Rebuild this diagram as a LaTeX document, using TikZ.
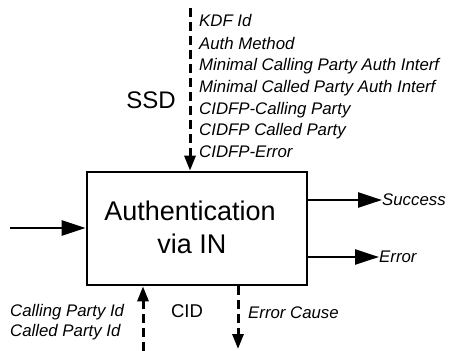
\documentclass[tikz,border=0pt]{standalone}
\usepackage{fontspec}
\setmainfont{Liberation Sans}
\usetikzlibrary{arrows.meta}
\begin{document}
\begin{tikzpicture}[x=1pt,y=-1pt,
  lbl/.style={font=\fontsize{16.8}{19}\selectfont\itshape, anchor=west, inner sep=0pt},
  big/.style={font=\fontsize{24}{28}\selectfont, inner sep=0pt},
  title/.style={font=\fontsize{27}{32}\selectfont, inner sep=0pt},
  solidarr/.style={line width=2.6pt, -{Triangle[length=24pt,width=15pt]}},
  dasharr/.style={line width=3pt, dash pattern=on 9pt off 5pt, -{Triangle[length=15pt,width=11pt]}}]
\useasboundingbox (0,0) rectangle (453,351);
\node[draw, line width=2.6pt, minimum width=220pt, minimum height=113pt, inner sep=0pt] (box) at (197,228.5) {};
\node[title] (t1) at (190,211) {Authentication};
\node[title] (t2) at (192,244) {via IN};
% top inputs
\coordinate (ssdtop) at (190,8);
\draw[dasharr] (ssdtop) -- (ssdtop |- box.north);
\node[big] (ssd) at (151,100) {SSD};
\node[lbl] (l1) at (199,20) {KDF Id};
\node[lbl] (l2) at (199,43) {Auth Method};
\node[lbl] (l3) at (199,66) {Minimal Calling Party Auth Interf};
\node[lbl] (l4) at (199,88) {Minimal Called Party Auth Interf};
\node[lbl] (l5) at (199,110) {CIDFP-Calling Party};
\node[lbl] (l6) at (199,131) {CIDFP Called Party};
\node[lbl] (l7) at (199,152) {CIDFP-Error};
% left input
\coordinate (in) at (10,228);
\draw[solidarr] (in) -- (in -| box.west);
% outputs
\node[lbl] (succ) at (382,200) {Success};
\draw[solidarr] (box.east |- succ.west) -- (succ.west);
\node[lbl] (err) at (379,257) {Error};
\draw[solidarr] (box.east |- err.west) -- (err.west);
% bottom
\coordinate (cidin) at (143,351);
\draw[dasharr] (cidin) -- (cidin |- box.south);
\coordinate (errout) at (238,349);
\draw[dasharr] (errout |- box.south) -- (errout);
\node[big, font=\fontsize{18.5}{22}\selectfont] (cid) at (187,311) {CID};
\node[lbl] (cp1) at (10,312) {Calling Party Id};
\node[lbl] (cp2) at (10,332) {Called Party Id};
\node[lbl] (ec) at (248,313) {Error Cause};
\end{tikzpicture}
\end{document}
